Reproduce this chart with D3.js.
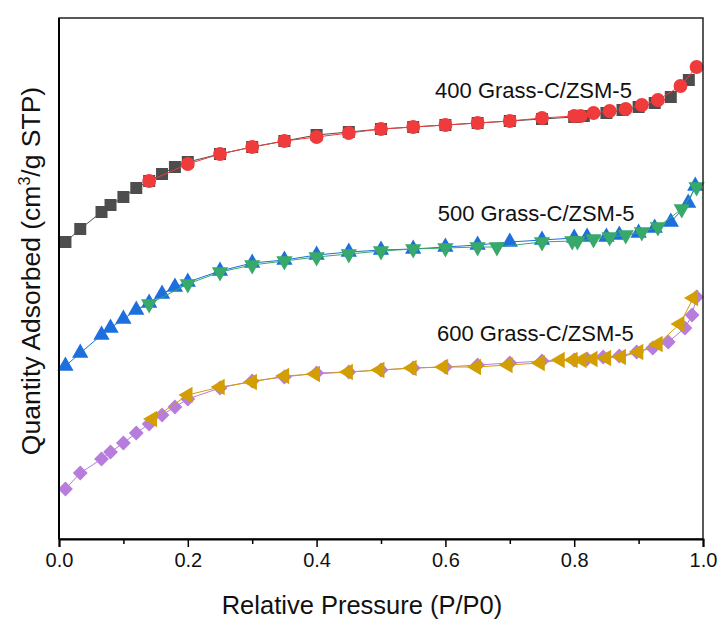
<!DOCTYPE html>
<html>
<head>
<meta charset="utf-8">
<script src="https://cdn.jsdelivr.net/npm/d3@7"></script>
<style>
  body { margin: 0; background: #fff; }
  text { font-family: "Liberation Sans", Arial, sans-serif; }
</style>
</head>
<body>
<svg id="chart" width="719" height="619"></svg>
<script>
// relative pressure (P/P0) and quantity adsorbed (arbitrary units, offset curves)
var p400ads = [0.01,0.033,0.066,0.08,0.1,0.12,0.14,0.16,0.18,0.2,0.25,0.3,0.35,0.4,0.45,0.5,0.55,0.6,0.65,0.7,0.75,0.8,0.815,0.85,0.875,0.9,0.925,0.95,0.978];
var q400ads = [297,310,327,334,342,351,358,365,372,377,385,392,398,404,407,410,412,414,416,418,420,422,423,426,429,432,436,442,459];
var p400des = [0.99,0.965,0.93,0.905,0.88,0.855,0.83,0.81,0.8,0.75,0.7,0.65,0.6,0.55,0.5,0.45,0.4,0.35,0.3,0.25,0.2,0.14];
var q400des = [472,453,439,434,430,428,426,423,423,421,418,416,414,412,410,406,402,398,392,385,375,358];

var p500ads = [0.01,0.033,0.066,0.08,0.1,0.12,0.14,0.16,0.18,0.2,0.25,0.3,0.35,0.4,0.45,0.5,0.55,0.6,0.65,0.7,0.75,0.8,0.82,0.85,0.87,0.9,0.925,0.95,0.977,0.988];
var q500ads = [173,186,204,211,220,229,236,245,252,257,268,276,279,284,287,289,290,292,294,297,299,301,302,302,304,306,311,317,336,353];
var p500des = [0.99,0.967,0.93,0.905,0.88,0.855,0.83,0.805,0.797,0.75,0.68,0.65,0.6,0.55,0.5,0.45,0.4,0.35,0.3,0.25,0.2,0.14];
var q500des = [352,330,312,307,304,302,300,298,298,297,292,292,291,290,288,285,282,278,274,267,255,235];

var p600ads = [0.01,0.033,0.066,0.08,0.1,0.12,0.14,0.16,0.18,0.2,0.25,0.3,0.35,0.4,0.45,0.5,0.55,0.6,0.65,0.7,0.75,0.8,0.82,0.845,0.87,0.897,0.922,0.946,0.972,0.983,0.99];
var q600ads = [50,66,80,87,96,106,115,124,132,140,151,158,162,166,167,169,171,172,174,176,178,179,180,182,183,187,191,197,211,224,242];
var p600des = [0.985,0.964,0.93,0.9,0.873,0.85,0.829,0.812,0.798,0.778,0.747,0.697,0.648,0.597,0.548,0.498,0.449,0.398,0.35,0.3,0.25,0.2,0.145];
var q600des = [241,215,195,187,182,181,180,179,179,179,176,174,172,172,171,169,167,165,163,157,152,144,120];

var xTicks = [0, 0.2, 0.4, 0.6, 0.8, 1.0];
var xMinor = [0.1, 0.3, 0.5, 0.7, 0.9];
var labels = ["400 Grass-C/ZSM-5", "500 Grass-C/ZSM-5", "600 Grass-C/ZSM-5"];
var labelP = [0.584, 0.588, 0.587];
var labelQ = [449, 326, 206];

var svg = d3.select("#chart");
var mLeft = 59, mRight = 703, mTop = 18, mBottom = 539;

var x = d3.scaleLinear().domain([0, 1]).range([mLeft, mRight]);
var y = d3.scaleLinear().domain([0, 521]).range([mBottom, mTop]);

var series = [
  {p: p400ads, q: q400ads, color: "#4d4d4d", sym: d3.symbolSquare, size: 144, rot: 0},
  {p: p400des, q: q400des, color: "#ef3b3b", sym: d3.symbolCircle, size: 150, rot: 0},
  {p: p500ads, q: q500ads, color: "#1c6fdc", sym: d3.symbolTriangle, size: 115, rot: 0},
  {p: p500des, q: q500des, color: "#37a96a", sym: d3.symbolTriangle, size: 115, rot: 180},
  {p: p600ads, q: q600ads, color: "#b67ddc", sym: d3.symbolSquare, size: 110, rot: 45},
  {p: p600des, q: q600des, color: "#d39e02", sym: d3.symbolTriangle, size: 115, rot: -90}
];

var line = d3.line()
    .x(function(d){ return x(d[0]); })
    .y(function(d){ return y(d[1]); });

series.forEach(function(s) {
  var pts = s.p.map(function(v, i){ return [v, s.q[i]]; });
  svg.append("path")
     .attr("d", line(pts))
     .attr("fill", "none")
     .attr("stroke", s.color)
     .attr("stroke-width", 1);
  svg.append("g").selectAll("path")
     .data(pts)
     .enter().append("path")
     .attr("d", d3.symbol().type(s.sym).size(s.size))
     .attr("transform", function(d){
        return "translate(" + x(d[0]) + "," + y(d[1]) + ") rotate(" + s.rot + ")";
     })
     .attr("fill", s.color);
});

// frame
svg.append("rect")
   .attr("x", mLeft).attr("y", mTop)
   .attr("width", mRight - mLeft).attr("height", mBottom - mTop)
   .attr("fill", "none").attr("stroke", "#222").attr("stroke-width", 1.5);
svg.append("line")
   .attr("x1", mLeft).attr("x2", mLeft).attr("y1", mTop).attr("y2", mBottom)
   .attr("stroke", "#000").attr("stroke-width", 2);

// x axis
var xAxis = svg.append("g")
   .attr("transform", "translate(0," + mBottom + ")")
   .call(d3.axisBottom(x).tickValues(xTicks).tickSize(8).tickFormat(d3.format(".1f")));
xAxis.select(".domain").attr("stroke", "#000").attr("stroke-width", 2);
xAxis.selectAll(".tick line").attr("stroke-width", 1.5);
xAxis.selectAll("text").attr("font-size", 20).attr("fill", "#111").attr("dy", "0.85em");
svg.append("g")
   .attr("transform", "translate(0," + mBottom + ")")
   .call(d3.axisBottom(x).tickValues(xMinor).tickSize(5).tickFormat(""))
   .call(function(g){ g.select(".domain").remove(); })
   .selectAll(".tick line").attr("stroke-width", 1.5);

// axis titles
svg.append("text")
   .attr("x", 362).attr("y", 614)
   .attr("text-anchor", "middle")
   .attr("font-size", 25.5).attr("fill", "#111")
   .text("Relative Pressure (P/P0)");

var yt = svg.append("text")
   .attr("transform", "translate(40," + 271 + ") rotate(-90)")
   .attr("text-anchor", "middle")
   .attr("font-size", 26.5).attr("fill", "#111");
yt.append("tspan").text("Quantity Adsorbed (cm");
yt.append("tspan").attr("font-size", 16).attr("dy", -10).text("3");
yt.append("tspan").attr("dy", 10).text("/g STP)");

// curve labels
svg.selectAll(".lbl")
   .data(labels)
   .enter().append("text")
   .attr("class", "lbl")
   .attr("x", function(d, i){ return x(labelP[i]); })
   .attr("y", function(d, i){ return y(labelQ[i]); })
   .attr("dy", "0.35em")
   .attr("font-size", 22)
   .attr("fill", "#111")
   .text(function(d){ return d; });
</script>
</body>
</html>
